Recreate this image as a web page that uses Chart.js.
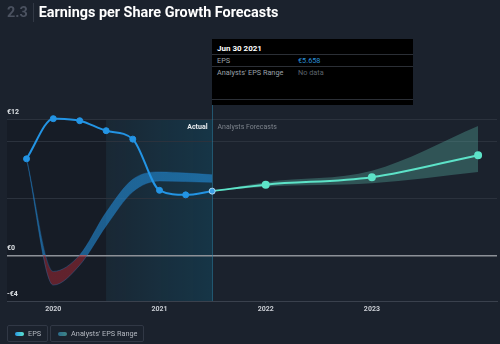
<!DOCTYPE html>
<html>
<head>
<meta charset="utf-8">
<script src="https://cdn.jsdelivr.net/npm/chart.js@4/dist/chart.umd.min.js"></script>
<style>
  html, body { margin: 0; padding: 0; }
  body { width: 500px; height: 344px; overflow: hidden; background: #1b222d; position: relative; font-family: Roboto, "Noto Sans", sans-serif; }
  #chart { position: absolute; left: 0; top: 0; }
  #title { position: absolute; left: 7px; top: 2px; height: 20px; display: flex; align-items: center; font-weight: 700; font-size: 14.4px; color: #fff; white-space: nowrap; }
  #title .num { color: #4b5260; }
  #title .sep { display: inline-block; width: 1px; height: 19px; background: #323945; margin: 0 5px 0 5px; }
  #tip { position: absolute; left: 212px; top: 39px; width: 201px; height: 66px; background: #000; font-size: 7.3px; color: #9aa0a8; }
  #tip .row { position: absolute; left: 5px; right: 0; height: 11px; line-height: 11px; }
  #tip .head { color: #fff; font-weight: 700; font-size: 8px; }
  #tip .line { position: absolute; left: 0; right: 0; height: 1px; background: #2b2f36; }
  #tip .val { position: absolute; left: 81px; }
  #legend { position: absolute; left: 7px; top: 325px; display: flex; gap: 2px; }
  .item { height: 15px; border: 1px solid #313845; border-radius: 2px; display: flex; align-items: center; padding: 0 6px 0 7px; font-size: 7.3px; color: #b4b9c1; }
  .pill { width: 9px; height: 4px; border-radius: 2px; margin-right: 4px; }
</style>
</head>
<body>
<canvas id="chart" width="500" height="344"></canvas>
<div id="title"><span class="num">2.3</span><span class="sep"></span><span>Earnings per Share Growth Forecasts</span></div>
<div id="tip">
  <div class="row head" style="top:4px">Jun 30 2021</div>
  <div class="line" style="top:15px"></div>
  <div class="row" style="top:16px">EPS<span class="val" style="color:#2a8fd8">€5.658</span></div>
  <div class="line" style="top:27px"></div>
  <div class="row" style="top:28px">Analysts' EPS Range<span class="val" style="color:#5d636c">No data</span></div>
  <div class="line" style="top:60px"></div>
</div>
<div id="legend">
  <div class="item"><span class="pill" style="background:linear-gradient(90deg,#2a98e4,#5ce6cf)"></span>EPS</div>
  <div class="item"><span class="pill" style="background:linear-gradient(90deg,#2b6c8c,#3f8686)"></span>Analysts' EPS Range</div>
</div>
<script>
// actual EPS (quarter ends)
var epsDates = ['2019-09-30', '2019-12-31', '2020-03-31', '2020-06-30', '2020-09-30', '2020-12-31', '2021-03-31', '2021-06-30'];
var epsValues = [8.5, 12.03, 11.85, 10.97, 10.23, 5.73, 5.33, 5.658];

// past analysts' range (same dates)
var pastHigh = [8.5, -1.4, 0.05, 3.8, 6.7, 7.35, 7.25, 7.1];
var pastLow = [8.5, -2.6, -0.85, 2.6, 5.6, 6.55, 6.5, 6.43];

// forecast
var fcDates = ['2021-06-30', '2021-12-31', '2022-12-31', '2023-12-31'];
var fcValues = [5.658, 6.23, 6.88, 8.82];
var fcHigh = [5.658, 6.45, 7.45, 11.38];
var fcLow = [5.658, 6.05, 6.35, 7.35];

var xTicks = [2020, 2021, 2022, 2023];
var yTicks = [-4, 0, 5, 10, 12];
var yLabels = ['-€4', '€0', '', '', '€12'];

var shadeStart = '2020-06-30';
var lastActual = '2021-06-30';

// date string -> fractional year
function toYear(s) {
    var d = new Date(s + 'T00:00:00Z');
    var y = d.getUTCFullYear();
    var start = Date.UTC(y, 0, 1);
    var len = (Date.UTC(y + 1, 0, 1) - start) / 86400000;
    var day = (d.getTime() - start) / 86400000 + 1;
    return y + day / len;
}

function pts(dates, vals) {
    return dates.map(function (d, i) { return { x: toYear(d), y: vals[i] }; });
}

// blue above zero, red below
function pastBandColor(context) {
    var chart = context.chart;
    var a = chart.chartArea;
    if (!a) return 'rgba(35,148,228,0.55)';
    var y0 = chart.scales.y.getPixelForValue(0);
    var t = Math.min(Math.max((y0 - a.top) / (a.bottom - a.top), 0), 1);
    var g = chart.ctx.createLinearGradient(0, a.top, 0, a.bottom);
    g.addColorStop(0, 'rgba(35,148,228,0.55)');
    g.addColorStop(t, 'rgba(35,148,228,0.55)');
    g.addColorStop(t, 'rgba(170,40,52,0.5)');
    g.addColorStop(1, 'rgba(170,40,52,0.5)');
    return g;
}

var overlay = {
    id: 'overlay',
    beforeDraw: function (chart) {
        var ctx = chart.ctx, a = chart.chartArea, x = chart.scales.x;
        var xs = x.getPixelForValue(toYear(shadeStart));
        var xn = x.getPixelForValue(toYear(lastActual));
        ctx.save();
        ctx.fillStyle = 'rgba(0,0,0,0.15)';
        ctx.fillRect(a.left, a.top, xs - a.left, a.bottom - a.top);
        var g = ctx.createLinearGradient(xs, 0, xn, 0);
        g.addColorStop(0, 'rgba(0,150,200,0.05)');
        g.addColorStop(1, 'rgba(0,150,200,0.17)');
        ctx.fillStyle = g;
        ctx.fillRect(xs, a.top, xn - xs, a.bottom - a.top);
        ctx.restore();
    },
    beforeDatasetsDraw: function (chart) {
        var ctx = chart.ctx, a = chart.chartArea, x = chart.scales.x;
        var xn = Math.round(x.getPixelForValue(toYear(lastActual))) + 0.5;
        ctx.save();
        ctx.strokeStyle = 'rgba(40,130,165,0.55)';
        ctx.lineWidth = 1;
        ctx.beginPath();
        ctx.moveTo(xn, 105);
        ctx.lineTo(xn, a.bottom);
        ctx.stroke();
        ctx.font = 'bold 7px Roboto';
        ctx.textBaseline = 'middle';
        ctx.textAlign = 'right';
        ctx.fillStyle = '#e8ecef';
        ctx.fillText('Actual', xn - 5, 127);
        ctx.textAlign = 'left';
        ctx.fillStyle = '#7d838c';
        ctx.font = '7px Roboto';
        ctx.fillText('Analysts Forecasts', xn + 5, 127);
        ctx.restore();
    }
};

Chart.defaults.font.family = 'Roboto';

var lastIdx = epsValues.length - 1;

new Chart(document.getElementById('chart'), {
    type: 'line',
    data: {
        datasets: [{
            label: 'EPS',
            data: pts(epsDates, epsValues),
            borderColor: '#2394e4',
            borderWidth: 2,
            cubicInterpolationMode: 'monotone',
            clip: 8,
            pointRadius: 3,
            pointBackgroundColor: epsValues.map(function (v, i) { return i == lastIdx ? '#3b9fe6' : '#2394e4'; }),
            pointBorderColor: epsValues.map(function (v, i) { return i == lastIdx ? '#a9d6f2' : '#2394e4'; }),
            pointBorderWidth: 1,
            fill: false
        }, {
            label: 'EPS forecast',
            data: pts(fcDates, fcValues),
            borderColor: '#5de3c8',
            borderWidth: 2,
            cubicInterpolationMode: 'monotone',
            clip: 8,
            pointRadius: fcValues.map(function (v, i) { return i == 0 ? 0 : 3; }),
            pointBackgroundColor: '#5de3c8',
            pointBorderColor: '#5de3c8',
            fill: false
        }, {
            label: 'range high',
            data: pts(epsDates, pastHigh),
            borderWidth: 0.8,
            borderColor: 'rgba(35,120,190,0.45)',
            cubicInterpolationMode: 'monotone',
            pointRadius: 0,
            fill: false
        }, {
            label: 'range low',
            data: pts(epsDates, pastLow),
            borderWidth: 0.8,
            borderColor: 'rgba(35,120,190,0.45)',
            backgroundColor: pastBandColor,
            cubicInterpolationMode: 'monotone',
            pointRadius: 0,
            fill: '-1'
        }, {
            label: 'forecast high',
            data: pts(fcDates, fcHigh),
            borderWidth: 0,
            cubicInterpolationMode: 'monotone',
            pointRadius: 0,
            fill: false
        }, {
            label: 'forecast low',
            data: pts(fcDates, fcLow),
            borderWidth: 0,
            backgroundColor: 'rgba(92,190,175,0.32)',
            cubicInterpolationMode: 'monotone',
            pointRadius: 0,
            fill: '-1'
        }]
    },
    options: {
        responsive: false,
        animation: false,
        events: [],
        layout: { autoPadding: false, padding: { left: 7, right: 3, top: 119, bottom: 23 } },
        plugins: { legend: { display: false }, tooltip: { enabled: false } },
        scales: {
            x: {
                type: 'linear',
                min: 2019.564,
                max: 2024.178,
                afterBuildTicks: function (s) { s.ticks = xTicks.map(function (v) { return { value: v }; }); },
                afterFit: function (s) { s.height = 20; },
                grid: { drawOnChartArea: false, drawTicks: true, tickLength: 2, color: '#3c4350' },
                border: { color: '#3a414d', width: 1 },
                ticks: { color: '#c9cdd3', font: { size: 7, weight: 'bold' }, padding: 2, autoSkip: false, maxRotation: 0,
                    callback: function (v) { return String(v); } }
            },
            y: {
                min: -4,
                max: 12,
                afterBuildTicks: function (s) { s.ticks = yTicks.map(function (v) { return { value: v }; }); },
                afterFit: function (s) { s.width = 0; },
                grid: {
                    drawTicks: false,
                    color: function (c) {
                        if (c.tick.value == 0) return '#8d9198';
                        if (c.tick.value == -4) return 'rgba(0,0,0,0)';
                        return '#2b323d';
                    },
                    lineWidth: function (c) { return c.tick.value == 0 ? 1.5 : 1; }
                },
                border: { display: false },
                ticks: {
                    mirror: true,
                    padding: 0,
                    labelOffset: -7,
                    autoSkip: false,
                    color: '#dde1e5',
                    font: { size: 7, weight: 'bold' },
                    callback: function (v) { var i = yTicks.indexOf(v); return i < 0 ? '' : yLabels[i]; }
                }
            }
        }
    },
    plugins: [overlay]
});
</script>
</body>
</html>
